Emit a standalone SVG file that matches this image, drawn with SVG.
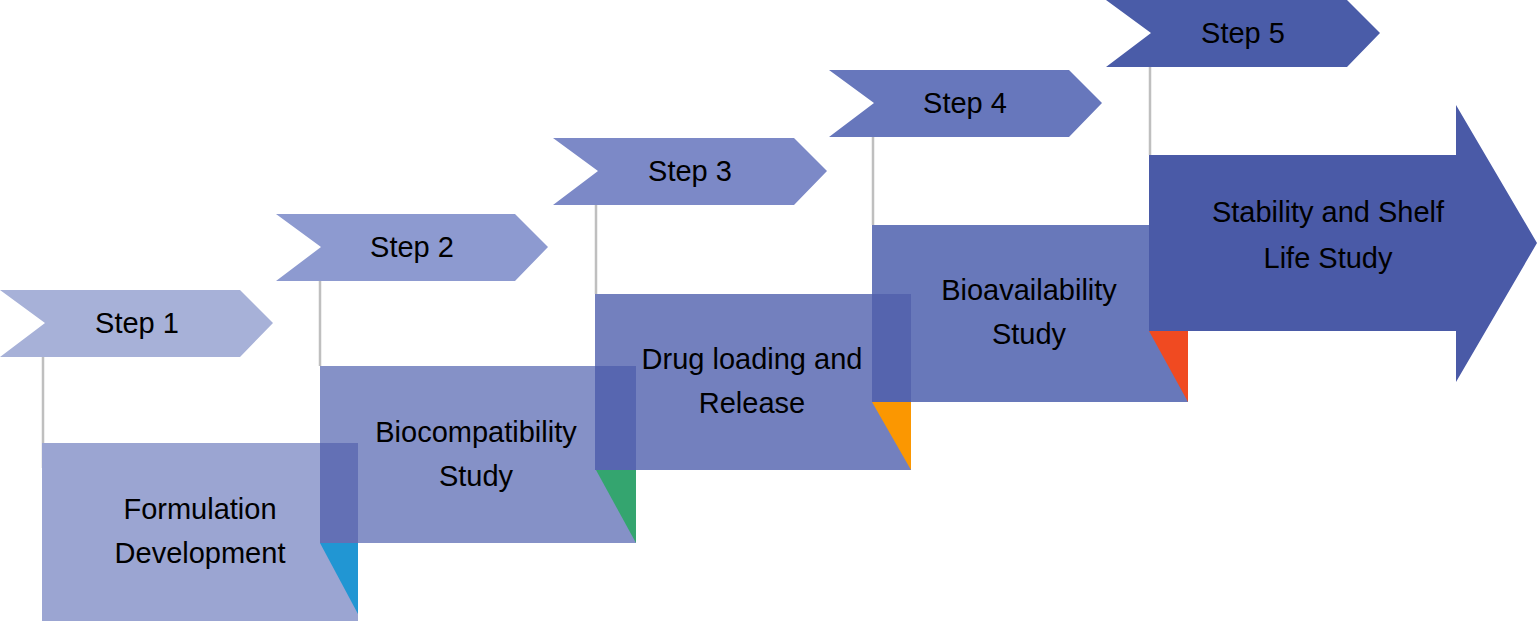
<svg xmlns="http://www.w3.org/2000/svg" width="1538" height="621" viewBox="0 0 1538 621">
<style>
text{font-family:"Liberation Sans",Arial,sans-serif;font-size:29px;fill:#000;text-anchor:middle;dominant-baseline:middle}
.ln{stroke:#bfbfbf;stroke-width:2.5}
</style>
<rect width="1538" height="621" fill="#fff"/>
<g id="connectors">
<line class="ln" x1="43" y1="357" x2="43" y2="468"/>
<line class="ln" x1="320" y1="281" x2="320" y2="366"/>
<line class="ln" x1="596" y1="205" x2="596" y2="294"/>
<line class="ln" x1="873" y1="137" x2="873" y2="225"/>
<line class="ln" x1="1150" y1="67" x2="1150" y2="155"/>
</g>
<g id="step1"><polygon points="0,290 240,290 273,323 240,357 0,357 45,323" fill="#a7b1d8"/></g>
<g id="step2"><polygon points="276,214 515,214 548,247 515,281 276,281 321,247" fill="#8d9ad0"/></g>
<g id="step3"><polygon points="553,138 794,138 827,171 794,205 553,205 598,171" fill="#7c89c7"/></g>
<g id="step4"><polygon points="829,70 1069,70 1102,103 1069,137 829,137 874,103" fill="#6777bc"/></g>
<g id="step5"><polygon points="1106,0 1347,0 1380,33 1347,67 1106,67 1151,33" fill="#4a5ca8"/></g>
<g id="box1"><rect x="42" y="443" width="316" height="178" fill="#9ba5d2"/><polygon points="320,543 358,543 358,614" fill="#2196d3"/></g>
<g id="box2"><rect x="320" y="366" width="316" height="177" fill="#8591c7"/><polygon points="596,470 636,470 636,543" fill="#34a56f"/><rect x="320" y="443" width="38" height="100" fill="#6370b5"/></g>
<g id="box3"><rect x="595" y="294" width="316" height="176" fill="#7380be"/><polygon points="872,402 911,402 911,470" fill="#fb9701"/><rect x="595" y="366" width="41" height="104" fill="#5766b0"/></g>
<g id="box4"><rect x="872" y="225" width="316" height="177" fill="#6878ba"/><polygon points="1149,331 1188,331 1188,402" fill="#f04a21"/><rect x="872" y="294" width="39" height="108" fill="#5564ae"/></g>
<g id="box5"><polygon points="1149,155 1456,155 1456,105 1537,243 1456,382 1456,331 1149,331" fill="#4a5aa7"/></g>
<g id="labels">
<text x="137" y="325">Step 1</text>
<text x="412" y="249">Step 2</text>
<text x="690" y="173">Step 3</text>
<text x="965" y="105">Step  4</text>
<text x="1243" y="35">Step 5</text>
<text x="200" y="511">Formulation</text>
<text x="200" y="555">Development</text>
<text x="476" y="434">Biocompatibility</text>
<text x="476" y="478">Study</text>
<text x="752" y="361">Drug loading and</text>
<text x="752" y="405">Release</text>
<text x="1029" y="292">Bioavailability</text>
<text x="1029" y="336">Study</text>
<text x="1328" y="214">Stability and Shelf</text>
<text x="1328" y="260">Life Study</text>
</g>
</svg>
